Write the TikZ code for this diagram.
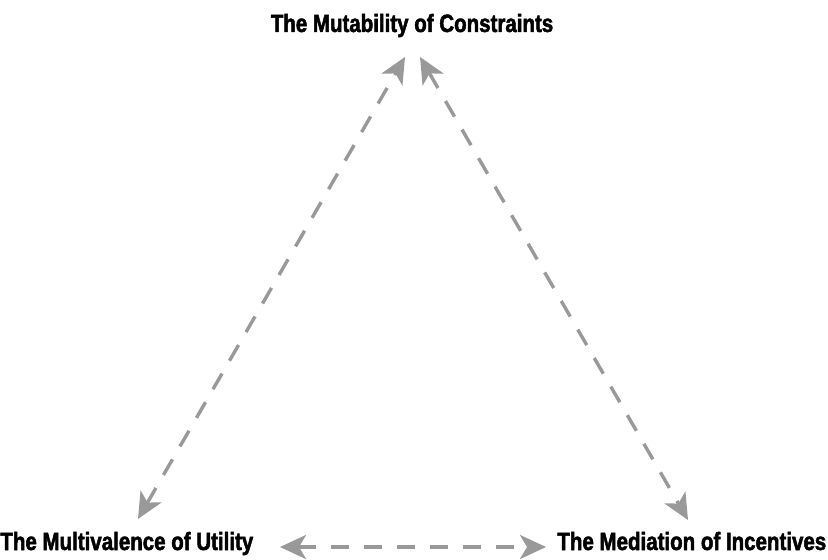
\documentclass[tikz,border=0pt]{standalone}
\usepackage{fontspec}
\setmainfont{Liberation Sans}[FakeStretch=0.82, BoldFeatures={FakeBold=2}]
\usepackage{tikz}
\usetikzlibrary{arrows.meta}

\begin{document}
\begin{tikzpicture}[x=0.5pt, y=-0.5pt,
	every node/.style={font=\fontsize{12.5}{14}\selectfont\bfseries, inner sep=0pt},
	link/.style={draw=black!40, line width=1.7pt, dash pattern=on 9pt off 7.5pt,
		{Stealth[length=13pt, width=12pt, inset=3.5pt]}-{Stealth[length=13pt, width=12pt, inset=3.5pt]}}]
	\useasboundingbox (0,0) rectangle (828,560);

	% --- 三个角上的标题 ---
	\node[anchor=base] (cons) at (412,32) {The Mutability of Constraints};
	\node[anchor=base west] (util) at (0,550) {The Multivalence of Utility};
	\node[anchor=base west] (ince) at (557,550) {The Mediation of Incentives};

	% 箭头端点
	\coordinate (cons-l) at (405,57);
	\coordinate (cons-r) at (420,57);
	\coordinate (util-t) at (138,519);
	\coordinate (util-r) at (280,547);
	\coordinate (ince-t) at (688,520);
	\coordinate (ince-l) at (546,547);

	% --- 双向虚线箭头 ---
	\draw[link] (util-t) -- (cons-l);
	\draw[link] (cons-r) -- (ince-t);
	\draw[link] (util-r) -- (ince-l);

\end{tikzpicture}
\end{document}
